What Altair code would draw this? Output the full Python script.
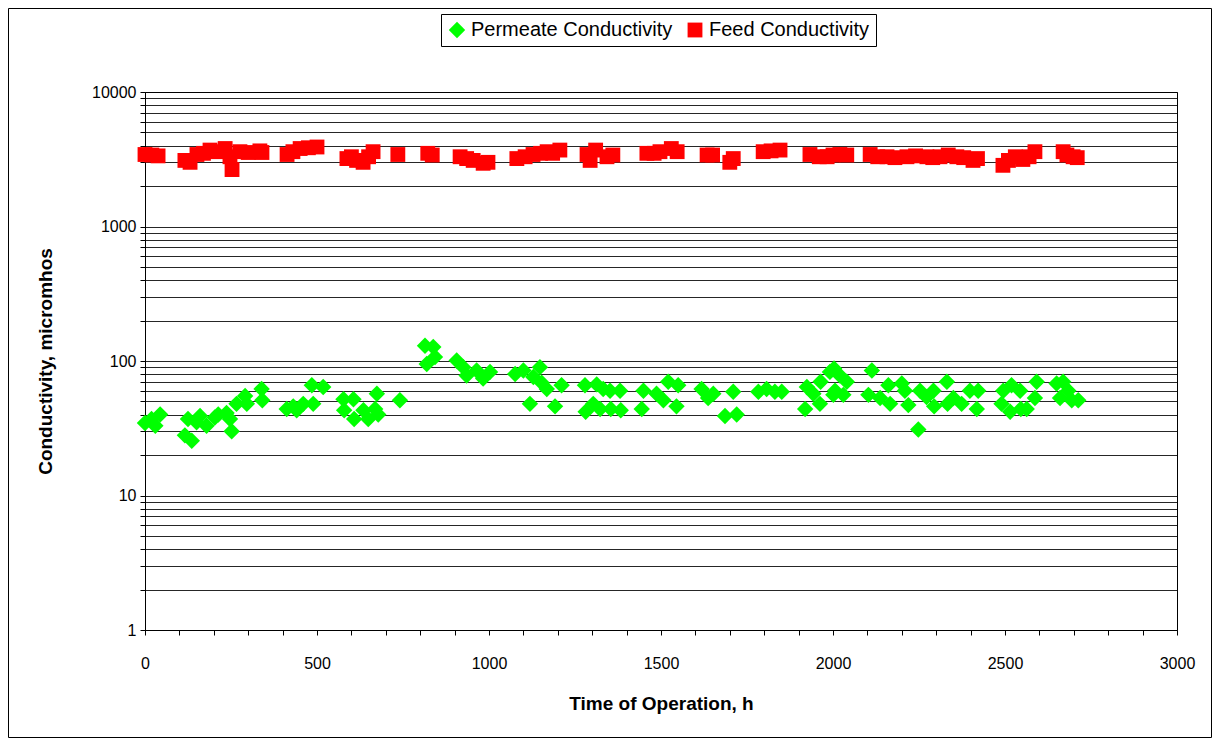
import altair as alt
import pandas as pd

# Permeate conductivity (time h, micromhos)
perm_time = [0, 19, 44, 30, 116, 136, 125, 150, 160, 179, 203, 213, 237, 247, 252, 266, 291, 296,
             339, 341, 412, 431, 441, 460, 485, 489, 518, 577, 579, 606, 608, 635, 649, 669, 674, 678,
             741, 814, 838, 819, 843, 906, 925, 935, 964, 983, 1003, 1076, 1100, 1119, 1129, 1148,
             1153, 1168, 1192, 1211, 1279, 1281, 1313, 1303, 1332, 1323, 1352, 1381, 1354, 1383,
             1449, 1444, 1487, 1507, 1521, 1550, 1545, 1618, 1637, 1652, 1686, 1720, 1710, 1783,
             1807, 1831, 1851, 1919, 1924, 1943, 1962, 1964, 1991, 2001, 2003, 2020, 2040, 2006,
             2030, 2113, 2103, 2137, 2161, 2166, 2200, 2209, 2219, 2248, 2253, 2272, 2292, 2294,
             2331, 2333, 2350, 2374, 2398, 2422, 2418, 2495, 2490, 2519, 2515, 2544, 2546, 2563,
             2592, 2587, 2650, 2669, 2660, 2684, 2694, 2713]
perm_value = [34.6, 37, 40, 33, 28, 25.5, 37, 35, 39, 33, 38, 40, 41, 37, 30, 48, 55, 48,
              62, 51, 44, 46, 43, 48, 66, 48, 64, 52, 43, 52, 37, 43, 37, 44, 57, 40,
              51, 130, 127, 95, 107, 101, 90, 78, 85, 74, 83, 80, 85, 48, 76, 90,
              69, 62, 46, 66, 66, 42, 67, 48, 62, 44, 60, 60, 44, 43,
              60, 44, 57, 51, 70, 66, 46, 62, 53, 57, 39, 40, 59, 59,
              62, 59, 59, 44, 64, 57, 48, 70, 83, 56, 88, 78, 70, 60,
              56, 85, 56, 53, 66, 48, 68, 60, 47, 31, 60, 54, 60, 46,
              70, 48, 53, 48, 60, 60, 44, 60, 48, 66, 42, 60, 44, 44,
              70, 53, 68, 70, 53, 60, 51, 51]

# Feed conductivity (time h, micromhos)
feed_time = [0, 20, 38, 116, 131, 151, 170, 189, 210, 233, 247, 253, 276, 300, 334, 340,
             413, 430, 451, 475, 500, 587, 600, 615, 634, 650, 663, 735, 822, 835,
             916, 935, 954, 983, 997, 1081, 1105, 1128, 1150, 1169, 1185, 1206,
             1285, 1294, 1310, 1343, 1360, 1459, 1480, 1497, 1530, 1547, 1634, 1650,
             1700, 1710, 1797, 1820, 1846, 1933, 1960, 1983, 2000, 2020, 2040,
             2108, 2130, 2157, 2180, 2215, 2240, 2273, 2290, 2311, 2335, 2360, 2380,
             2407, 2420, 2494, 2510, 2530, 2552, 2570, 2587, 2669, 2680, 2698, 2710]
feed_value = [3430, 3400, 3350, 3100, 3000, 3430, 3500, 3700, 3600, 3800, 3300, 2650, 3600, 3550, 3650, 3550,
              3430, 3600, 3800, 3850, 3900, 3200, 3300, 3100, 3000, 3300, 3600, 3430, 3500, 3400,
              3300, 3200, 3100, 2950, 3000, 3200, 3300, 3430, 3500, 3600, 3500, 3700,
              3430, 3100, 3700, 3300, 3400, 3500, 3500, 3600, 3800, 3600, 3400, 3400,
              3000, 3200, 3600, 3650, 3700, 3430, 3300, 3300, 3400, 3430, 3400,
              3430, 3300, 3300, 3250, 3300, 3350, 3300, 3250, 3300, 3400, 3300, 3250,
              3100, 3200, 2850, 3100, 3300, 3150, 3300, 3600, 3600, 3400, 3300, 3250]

series_names = ["Permeate Conductivity", "Feed Conductivity"]
series_colors = ["#00FF00", "#FF0000"]
series_shapes = ["diamond", "square"]
series_sizes = [270, 220]

y_grid_values = [m * 10 ** e for e in range(4) for m in range(1, 10)] + [10000]
x_tick_values = list(range(0, 3001, 100))

df = pd.concat([
    pd.DataFrame({"time": perm_time, "value": perm_value, "series": series_names[0]}),
    pd.DataFrame({"time": feed_time, "value": feed_value, "series": series_names[1]}),
])

FONT = "Liberation Sans"

points = alt.Chart(df).mark_point(filled=True, opacity=1, strokeWidth=0).encode(
    x=alt.X("time:Q",
            scale=alt.Scale(domain=[0, 3000], nice=False, zero=False),
            axis=alt.Axis(values=x_tick_values,
                          labelExpr="datum.value % 500 == 0 ? format(datum.value, 'd') : ''",
                          labelOverlap=False, labelFlush=False, grid=False,
                          tickSize=5, tickColor="black", domainColor="black",
                          labelFontSize=16, labelColor="black", labelFont=FONT, labelPadding=20,
                          title="Time of Operation, h", titleFontSize=19, titleFont=FONT,
                          titleFontWeight="bold", titleColor="black", titlePadding=23)),
    y=alt.Y("value:Q",
            scale=alt.Scale(type="log", domain=[1, 10000], nice=False),
            axis=alt.Axis(values=y_grid_values,
                          labelExpr="indexof([1,10,100,1000,10000], datum.value) >= 0 ? format(datum.value, 'd') : ''",
                          labelOverlap=False, labelFlush=False, grid=True,
                          gridColor="black", gridOpacity=0.85, gridWidth=1,
                          tickSize=5, tickColor="black", domainColor="black",
                          labelFontSize=16, labelColor="black", labelFont=FONT, labelPadding=4,
                          title="Conductivity, micromhos", titleFontSize=19, titleFont=FONT,
                          titleFontWeight="bold", titleColor="black",
                          titleX=-100, titleY=269, titleAngle=270,
                          titleAlign="center", titleBaseline="middle")),
    color=alt.Color("series:N",
                    scale=alt.Scale(domain=series_names, range=series_colors),
                    legend=alt.Legend(title=None, orient="none", legendX=296, legendY=-78,
                                      direction="horizontal", strokeColor="black",
                                      fillColor="white", padding=6,
                                      labelFontSize=20, labelFont=FONT, labelColor="black",
                                      symbolSize=120, columnPadding=12, labelLimit=400)),
    shape=alt.Shape("series:N",
                    scale=alt.Scale(domain=series_names, range=series_shapes),
                    legend=alt.Legend(title=None, orient="none", legendX=296, legendY=-78,
                                      direction="horizontal")),
    size=alt.Size("series:N",
                  scale=alt.Scale(domain=series_names, range=series_sizes),
                  legend=None),
)

frame = alt.Chart(alt.Data(values=[{"f": 1}])).mark_rect(
    fillOpacity=0, stroke="black", strokeWidth=1
).encode(
    x=alt.value(-136.5), x2=alt.value(1066.5), y=alt.value(-83.5), y2=alt.value(645.5)
)

chart = alt.layer(points, frame).properties(
    width=1032, height=538,
    autosize=alt.AutoSizeParams(type="none"),
    padding={"left": 137, "top": 84, "right": 35, "bottom": 108},
    background="white",
).configure_view(stroke="black", strokeWidth=1)

chart.save("out.html", embed_options={"renderer": "svg", "actions": False})
